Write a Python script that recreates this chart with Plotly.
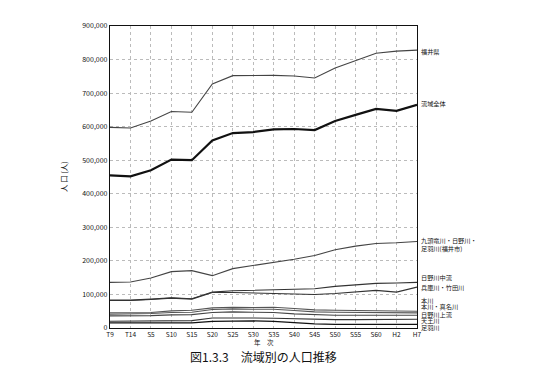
import plotly.graph_objects as go

years = ["T9", "T14", "S5", "S10", "S15", "S20", "S25", "S30", "S35", "S40",
         "S45", "S50", "S55", "S60", "H2", "H7"]

fukui_pref = [598000, 596000, 617000, 645000, 643000, 727000, 752000, 753000,
              753000, 751000, 745000, 775000, 796000, 819000, 825000, 828000]
basin_total = [455000, 452000, 470000, 502000, 500000, 559000, 581000, 584000,
               592000, 593000, 590000, 617000, 635000, 653000, 647000, 665000]
fukui_city = [136000, 137000, 149000, 168000, 171000, 156000, 177000, 186000,
              195000, 205000, 216000, 233000, 244000, 252000, 254000, 258000]
hino_mid = [83000, 83000, 86000, 90000, 87000, 107000, 111000, 113000,
            114000, 115000, 117000, 124000, 129000, 133000, 134000, 136000]
hyogo_takeda = [82000, 82000, 85000, 89000, 86000, 106000, 106000, 104000,
                103000, 101000, 100000, 103000, 107000, 112000, 107000, 122000]
honkawa = [45000, 45000, 46000, 51000, 53000, 60000, 62000, 61000,
           62000, 58000, 54000, 53000, 52000, 52000, 51000, 50000]
honkawa_mana = [41000, 41000, 43000, 46000, 47000, 55000, 57000, 56000,
                56000, 52000, 48000, 47000, 46000, 46000, 45000, 45000]
hino_up = [36000, 36000, 37000, 39000, 40000, 46000, 48000, 47000,
           46000, 42000, 39000, 38000, 38000, 38000, 38000, 38000]
tenno = [20000, 20000, 20000, 21000, 22000, 30000, 31000, 30000,
         29000, 27000, 25000, 25000, 25000, 26000, 26000, 26000]
asuwa = [15000, 15000, 15000, 15000, 15000, 20000, 21000, 21000,
         20000, 16000, 12000, 11000, 11000, 11000, 11000, 11000]

series = [
    (fukui_pref, "#444444", 1.1),
    (basin_total, "#111111", 2.2),
    (fukui_city, "#444444", 1.1),
    (hino_mid, "#333333", 1.1),
    (hyogo_takeda, "#333333", 1.1),
    (honkawa, "#555555", 1.1),
    (honkawa_mana, "#555555", 1.1),
    (hino_up, "#444444", 1.1),
    (tenno, "#333333", 1.1),
    (asuwa, "#111111", 1.3),
]

right_labels = [
    ("福井県", 823000),
    ("流域全体", 670000),
    ("九頭竜川・日野川・<br>足羽川(福井市)", 249000),
    ("日野川中流", 150000),
    ("兵庫川・竹田川", 122000),
    ("本川", 83000),
    ("本川・真名川", 63000),
    ("日野川上流", 41000),
    ("天王川", 22000),
    ("足羽川", 2000),
]

y_ticks = list(range(0, 900001, 100000))
y_ticktext = ["0"] + [f"{v:,}" for v in y_ticks[1:]]

FONT = "Noto Sans CJK JP"

fig = go.Figure()
xi = list(range(len(years)))
for vals, col, w in series:
    fig.add_trace(go.Scatter(x=xi, y=vals, mode="lines",
                             line=dict(color=col, width=w),
                             showlegend=False, hoverinfo="skip"))

for text, yv in right_labels:
    fig.add_annotation(x=1, xref="paper", y=yv, yref="y", text=text,
                       xanchor="left", yanchor="middle", xshift=2,
                       showarrow=False, align="left",
                       font=dict(family=FONT, size=6.2, color="#111111"))

fig.add_annotation(x=0.5, xref="paper", y=-0.047, yref="paper", text="年　次",
                   showarrow=False, xanchor="center", yanchor="middle",
                   font=dict(family=FONT, size=6.5, color="#111111"))
fig.add_annotation(x=0.5, xref="paper", y=-0.093, yref="paper",
                   text="図1.3.3　流域別の人口推移",
                   showarrow=False, xanchor="center", yanchor="middle",
                   font=dict(family=FONT, size=12, color="#111111"))
fig.add_annotation(x=-0.153, xref="paper", y=0.5, yref="paper",
                   text="人 口 (人)", textangle=-90,
                   showarrow=False, xanchor="center", yanchor="middle",
                   font=dict(family=FONT, size=7.5, color="#111111"))

fig.update_layout(
    width=529, height=368,
    margin=dict(l=102, r=120, t=16, b=48),
    paper_bgcolor="white", plot_bgcolor="white",
    font=dict(family=FONT, size=7, color="#111111"),
    xaxis=dict(range=[0, len(years) - 1], tickvals=xi, ticktext=years,
               showgrid=True, gridcolor="#bbbbbb", griddash="dot", gridwidth=1,
               showline=True, linecolor="#111111", linewidth=1.2, mirror=True,
               ticks="", tickfont=dict(size=6.5), zeroline=False),
    yaxis=dict(range=[0, 900000], tickvals=y_ticks, ticktext=y_ticktext,
               showgrid=True, gridcolor="#bbbbbb", griddash="dot", gridwidth=1,
               showline=True, linecolor="#111111", linewidth=1.2, mirror=True,
               ticks="", tickfont=dict(size=7), zeroline=False),
)

fig.write_html("out.html")
